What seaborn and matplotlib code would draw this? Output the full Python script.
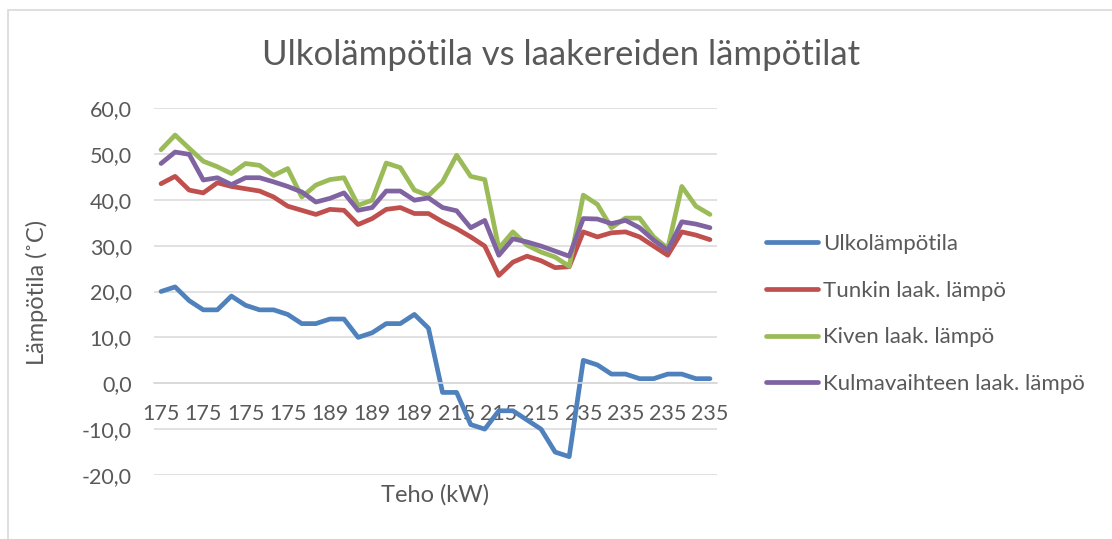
import matplotlib
matplotlib.use("Agg")
import matplotlib.pyplot as plt
from matplotlib.patches import Rectangle
import seaborn as sns
import pandas as pd

# ---- data ----
teho = [175, 175, 175, 175, 175, 175, 175, 175, 175, 175, 175, 175,
        189, 189, 189, 189, 189, 189, 189, 189,
        215, 215, 215, 215, 215, 215, 215, 215, 215, 215,
        235, 235, 235, 235, 235, 235, 235, 235, 235, 235]
ulko = [20, 21, 18, 16, 16, 19, 17, 16, 16, 15, 13, 13, 14, 14, 10, 11, 13, 13, 15, 12,
        -2, -2, -9, -10, -6, -6, -8, -10, -15, -16, 5, 4, 2, 2, 1, 1, 2, 2, 1, 1]
tunkki = [43.5, 45.1, 42.1, 41.5, 43.7, 42.9, 42.4, 41.9, 40.6, 38.6, 37.7, 36.8, 37.9, 37.7,
          34.6, 35.9, 37.9, 38.3, 37.0, 37.0, 35.2, 33.7, 31.9, 29.9, 23.5, 26.4, 27.7, 26.7,
          25.2, 25.4, 33.0, 31.9, 32.8, 33.0, 31.9, 29.9, 27.9, 33.0, 32.3, 31.3]
kivi = [50.9, 54.1, 51.2, 48.4, 47.2, 45.7, 47.9, 47.5, 45.3, 46.8, 40.6, 43.2, 44.4, 44.8,
        38.8, 39.9, 48.0, 47.0, 42.1, 40.9, 43.9, 49.7, 45.1, 44.4, 29.4, 33.0, 30.1, 28.6,
        27.5, 25.5, 41.0, 39.0, 33.9, 36.0, 36.0, 31.9, 29.4, 42.9, 38.6, 36.8]
kulma = [47.9, 50.4, 49.9, 44.3, 44.8, 43.3, 44.8, 44.8, 43.9, 42.9, 41.7, 39.5, 40.3, 41.5,
         37.7, 38.3, 41.9, 41.9, 39.9, 40.4, 38.3, 37.6, 33.9, 35.5, 27.9, 31.5, 30.8, 29.9,
         28.8, 27.7, 35.9, 35.8, 34.8, 35.5, 33.9, 31.2, 29.0, 35.2, 34.7, 33.9]
series_names = ["Ulkolämpötila", "Tunkin laak. lämpö", "Kiven laak. lämpö",
                "Kulmavaihteen laak. lämpö"]
series_values = [ulko, tunkki, kivi, kulma]
colors = ["#4F81BD", "#C0504D", "#9BBB59", "#8064A2"]
y_ticks = [-20, -10, 0, 10, 20, 30, 40, 50, 60]

title = "Ulkolämpötila vs laakereiden lämpötilat"
xlabel = "Teho (kW)"
ylabel = "Lämpötila (˚C)"

# ---- long table ----
rows = []
for name, vals in zip(series_names, series_values):
    for i, v in enumerate(vals):
        rows.append({"idx": i, "Teho": teho[i], "series": name, "value": v})
df = pd.DataFrame(rows)

sns.set_theme(style="white")
plt.rcParams["font.family"] = ["Lato", "DejaVu Sans"]
txt = "#595959"

W, H = 1112, 539
fig = plt.figure(figsize=(W / 100, H / 100), dpi=100)
fig.patch.set_facecolor("white")
ax = fig.add_axes([154 / W, 1 - 475 / H, (717 - 154) / W, (475 - 108) / H])

sns.lineplot(data=df, x="idx", y="value", hue="series", hue_order=series_names,
             palette=colors, linewidth=3.4, ax=ax, legend=True,
             solid_capstyle="round", solid_joinstyle="round")

ax.set_xlim(-0.5, len(teho) - 0.5)
ax.set_ylim(-20, 60)
ax.set_yticks(y_ticks)
ax.set_yticklabels([f"{v:.1f}".replace(".", ",") for v in y_ticks])
ax.yaxis.grid(True, color="#D9D9D9", linewidth=1.1)
ax.set_axisbelow(True)
for s in ["left", "right", "top"]:
    ax.spines[s].set_visible(False)
ax.spines["bottom"].set_position(("data", 0))
ax.spines["bottom"].set_color("#D9D9D9")
ax.spines["bottom"].set_linewidth(1.1)

xt = list(range(0, len(teho), 3))
ax.set_xticks(xt)
ax.set_xticklabels([str(teho[i]) for i in xt])
ax.tick_params(axis="x", length=0, pad=15.2, labelsize=15.5, labelcolor=txt)
ax.tick_params(axis="y", length=0, pad=16, labelsize=15.5, labelcolor=txt)

ax.set_xlabel("")
ax.set_ylabel("")
fig.text(435.5 / W, 1 - 495 / H, xlabel, ha="center", va="center", fontsize=17, color=txt)
fig.text(37 / W, 1 - 292 / H, ylabel, ha="center", va="center", rotation=90,
         fontsize=17, color=txt)
fig.text(561 / W, 1 - 55 / H, title, ha="center", va="center", fontsize=25, color=txt)

handles, labels = ax.get_legend_handles_labels()
ax.legend_.remove()
leg = fig.legend(handles, labels, loc="center left",
                 bbox_to_anchor=(766 / W, 1 - 314 / H), frameon=False,
                 fontsize=16, handlelength=2.35, handletextpad=0.22,
                 labelspacing=1.2, borderpad=0, borderaxespad=0)
for t in leg.get_texts():
    t.set_color(txt)
for l in leg.get_lines():
    l.set_linewidth(3.4)
    l.set_solid_capstyle("round")

fig.add_artist(Rectangle((8 / W, -0.1), 1.2, 1.1 - 9.5 / H, transform=fig.transFigure,
                         fill=False, edgecolor="#D9D9D9", linewidth=1.2))

fig.savefig("out.png", dpi=100, facecolor="white")
